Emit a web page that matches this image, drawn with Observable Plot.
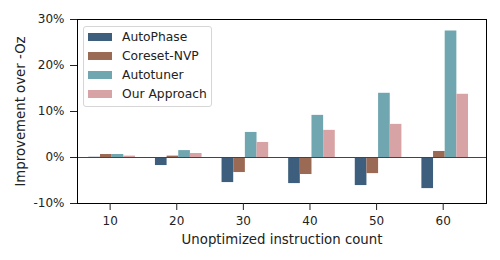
<!DOCTYPE html>
<html>
<head>
<meta charset="utf-8">
<script src="https://cdn.jsdelivr.net/npm/d3@7"></script>
<script src="https://cdn.jsdelivr.net/npm/@observablehq/plot@0.6"></script>
<style>
  html, body { margin: 0; padding: 0; background: #fff; }
  #wrap { position: relative; width: 500px; height: 260px; font-family: "DejaVu Sans", sans-serif; }
  #legend { position: absolute; left: 83px; top: 26px; width: 129px; height: 81px;
    border: 1px solid #d6d6d6; border-radius: 3px; background: rgba(255,255,255,0.8);
    box-sizing: border-box; padding-top: 0px; }
  .row { display: flex; align-items: center; height: 19.2px; font-size: 12.3px; color: #222; }
  .sw { width: 24px; height: 8px; margin-left: 4px; margin-right: 10px; }
</style>
</head>
<body>
<div id="wrap"><div id="legend"></div></div>
<script>
const counts = [10, 20, 30, 40, 50, 60];
const seriesNames = ["AutoPhase", "Coreset-NVP", "Autotuner", "Our Approach"];
const autoPhase = [0.05, -1.75, -5.45, -5.67, -6.1, -6.76];
const coresetNVP = [0.65, 0.3, -3.27, -3.7, -3.5, 1.31];
const autotuner = [0.65, 1.5, 5.45, 9.16, 13.96, 27.5];
const ourApproach = [0.3, 0.87, 3.27, 5.9, 7.2, 13.74];
const yTicks = [-10, 0, 10, 20, 30];
const colors = ["#3d5f7d", "#9b6a54", "#6fa6b0", "#d8a3a5"];

const allSeries = [autoPhase, coresetNVP, autotuner, ourApproach];
const barW = 1.75;
const groupStart = -3.2;
const rows = [];
allSeries.forEach((vals, si) => {
  vals.forEach((v, i) => {
    const x1 = counts[i] + groupStart + si * barW;
    rows.push({series: seriesNames[si], count: counts[i], x1, x2: x1 + barW, value: v});
  });
});

const FONT = "'DejaVu Sans', sans-serif";
const chart = Plot.plot({
  width: 500,
  height: 260,
  marginLeft: 77,
  marginRight: 14,
  marginTop: 19,
  marginBottom: 57,
  style: {fontFamily: FONT, fontSize: "12px", color: "#222", background: "white"},
  x: {domain: [5.1, 66.5]},
  y: {domain: [-10, 30]},
  color: {domain: seriesNames, range: colors},
  marks: [
    Plot.rectY(rows, {x1: "x1", x2: "x2", y1: 0, y2: "value", fill: "series"}),
    Plot.ruleY([0], {stroke: "#444", strokeWidth: 1.1}),
    Plot.frame({stroke: "#000", strokeWidth: 1}),
    Plot.axisY({ticks: yTicks, tickFormat: d => d + "%", tickSize: 7, tickPadding: 6, label: null, fontSize: 12}),
    Plot.axisX({ticks: counts, tickFormat: d => String(d), tickSize: 7, tickPadding: 6, label: null, fontSize: 12}),
    Plot.text(["Improvement over -Oz"], {frameAnchor: "left", dx: -57, dy: 0, rotate: -90, textAnchor: "middle", fontSize: 13.3, fill: "#222", fontFamily: FONT}),
    Plot.text(["Unoptimized instruction count"], {frameAnchor: "bottom", dy: 36, lineAnchor: "middle", textAnchor: "middle", fontSize: 13.3, fill: "#222", fontFamily: FONT})
  ]
});
document.getElementById("wrap").prepend(chart);

const legend = document.getElementById("legend");
seriesNames.forEach((name, i) => {
  const r = document.createElement("div");
  r.className = "row";
  const sw = document.createElement("div");
  sw.className = "sw";
  sw.style.background = colors[i];
  const t = document.createElement("span");
  t.textContent = name;
  r.appendChild(sw);
  r.appendChild(t);
  legend.appendChild(r);
});
</script>
</body>
</html>
